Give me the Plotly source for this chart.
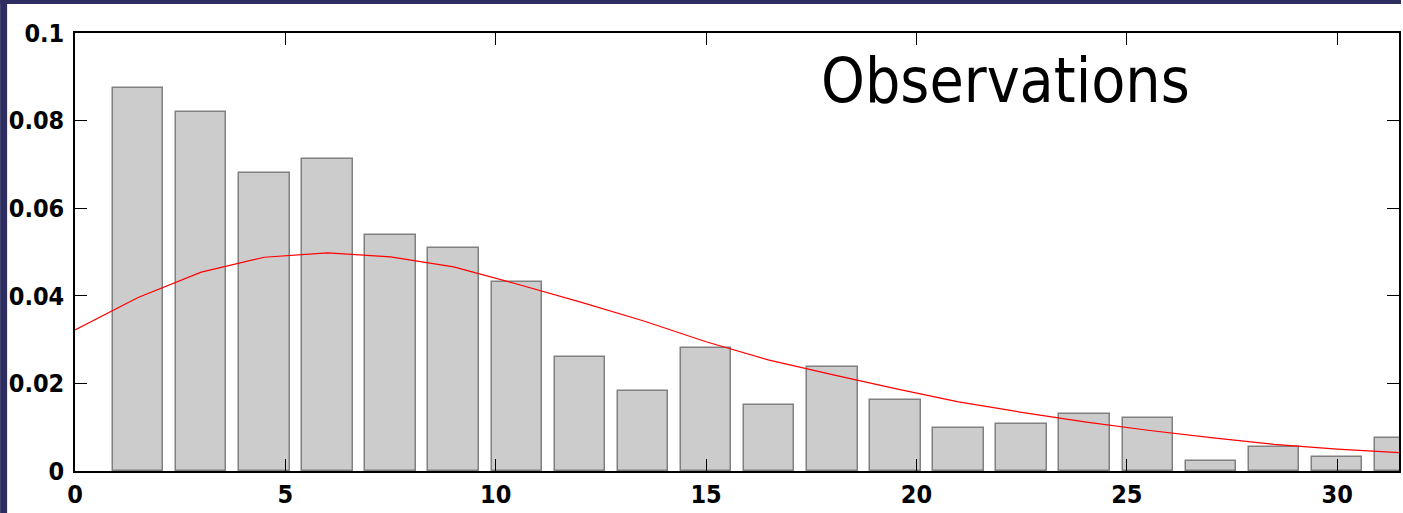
import plotly.graph_objects as go

# Bin centres and observed frequencies
bin_centers = [1.5, 3.0, 4.5, 6.0, 7.5, 9.0, 10.5, 12.0, 13.5, 15.0, 16.5,
               18.0, 19.5, 21.0, 22.5, 24.0, 25.5, 27.0, 28.5, 30.0, 31.5]
observed = [0.0875, 0.0820, 0.0681, 0.0713, 0.0539, 0.0509, 0.0431, 0.0260,
            0.0182, 0.0281, 0.0150, 0.0237, 0.0162, 0.0098, 0.0107, 0.0130,
            0.0120, 0.0022, 0.0054, 0.0032, 0.0075]

# Fitted density curve
fit_x = [0, 1.5, 3, 4.5, 6, 7.5, 9, 10.5, 12, 13.5, 15, 16.5, 18, 19.5, 21,
         22.5, 24, 25.5, 27, 28.5, 30, 31.5]
fit_y = [0.0322, 0.0396, 0.0454, 0.0488, 0.0498, 0.0489, 0.0466, 0.0427,
         0.0386, 0.0343, 0.0295, 0.0253, 0.0220, 0.0188, 0.0158, 0.0134,
         0.0112, 0.0093, 0.0076, 0.0061, 0.0050, 0.0042]

x_ticks = [0, 5, 10, 15, 20, 25, 30]
y_ticks = [0, 0.02, 0.04, 0.06, 0.08, 0.1]
y_tick_text = ["0", "0.02", "0.04", "0.06", "0.08", "0.1"]

fig = go.Figure()
fig.add_trace(go.Bar(
    x=bin_centers, y=observed, width=1.2,
    marker=dict(color="#CCCCCC", line=dict(color="#808080", width=1.5)),
    showlegend=False, hoverinfo="skip",
))
fig.add_trace(go.Scatter(
    x=fit_x, y=fit_y, mode="lines",
    line=dict(color="#FF0000", width=1.2),
    showlegend=False, hoverinfo="skip",
))

tickfont = dict(family="DejaVu Sans Condensed", size=25, color="black", weight="bold")

fig.update_xaxes(
    range=[0, 31.47], tickvals=x_ticks, ticks="inside", ticklen=12,
    tickcolor="black", tickwidth=1, showline=True, linecolor="black",
    linewidth=1.5, mirror="ticks", showgrid=False, zeroline=False,
    tickfont=tickfont,
)
fig.update_yaxes(
    range=[0, 0.1], tickvals=y_ticks, ticktext=y_tick_text, ticks="inside",
    ticklen=12, tickcolor="black", tickwidth=1, showline=True,
    linecolor="black", linewidth=1.5, mirror="ticks", showgrid=False,
    zeroline=False, tickfont=tickfont, ticklabelstandoff=4,
)

fig.add_annotation(
    text="Observations", xref="paper", yref="paper",
    x=(820 - 75) / 1326, y=1 - (80 - 33) / 438,
    xanchor="left", yanchor="middle", showarrow=False,
    font=dict(family="DejaVu Sans Condensed", size=62, color="black"),
)

navy = "#2E2D62"
fig.add_shape(type="rect", xref="paper", yref="paper",
              x0=-75 / 1326, x1=-68 / 1326, y0=-42 / 438, y1=1 + 33 / 438,
              fillcolor=navy, line=dict(width=0), layer="above")
fig.add_shape(type="rect", xref="paper", yref="paper",
              x0=-75 / 1326, x1=1 + 2 / 1326, y0=1 + 29 / 438, y1=1 + 33 / 438,
              fillcolor=navy, line=dict(width=0), layer="above")

fig.update_layout(
    width=1403, height=513,
    margin=dict(l=75, r=2, t=33, b=42, pad=0),
    paper_bgcolor="white", plot_bgcolor="white",
    bargap=0, showlegend=False,
)

fig.write_html("out.html")
